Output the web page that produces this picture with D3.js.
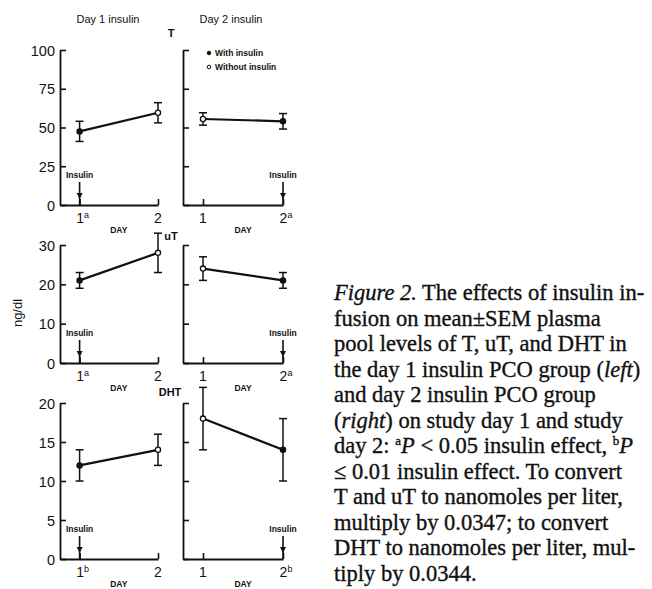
<!DOCTYPE html>
<html>
<head>
<meta charset="utf-8">
<script src="https://cdn.jsdelivr.net/npm/d3@7"></script>
<style>
  body { margin: 0; background: #fff; }
  svg text { fill: #111; }
</style>
</head>
<body>
<div class="chart"></div>
<script>
// day values on the x axis
const days = [1, 2];

// T (ng/dl): mean and SEM for each day
const tLeftMean = [47.5, 59.5], tLeftSem = [6.5, 6.5];
const tRightMean = [55.5, 54], tRightSem = [4, 5];
// uT (ng/dl)
const utLeftMean = [21, 28], utLeftSem = [2, 5];
const utRightMean = [24, 21], utRightSem = [3, 2];
// DHT (ng/dl)
const dhtLeftMean = [12, 14], dhtLeftSem = [2, 2];
const dhtRightMean = [18, 14], dhtRightSem = [4, 4];

const rowLabels = ["T", "uT", "DHT"];
const rowMax = [100, 30, 20];
const rowTicks = [[0, 25, 50, 75, 100], [0, 10, 20, 30], [0, 5, 10, 15, 20]];
const rowSup = ["a", "a", "b"];          // significance marker on the insulin day
const groupTitles = ["Day 1 insulin", "Day 2 insulin"];
const insulinDay = [1, 2];                // left group got insulin on day 1, right on day 2
const legendLabels = ["With insulin", "Without insulin"];

const caption = [
  [["Figure 2.", "i"], [" The effects of insulin in-"]],
  [["fusion on mean\u00b1SEM plasma"]],
  [["pool levels of T, uT, and DHT in"]],
  [["the day 1 insulin PCO group ("], ["left", "i"], [")"]],
  [["and day 2 insulin PCO group"]],
  [["("], ["right", "i"], [") on study day 1 and study"]],
  [["day 2: "], ["a", "sup"], ["P", "i"], [" < 0.05 insulin effect, "], ["b", "sup"], ["P", "i"]],
  [["\u2264 0.01 insulin effect. To convert"]],
  [["T and uT to nanomoles per liter,"]],
  [["multiply by 0.0347; to convert"]],
  [["DHT to nanomoles per liter, mul-"]],
  [["tiply by 0.0344."]]
];

const means = [[tLeftMean, tRightMean], [utLeftMean, utRightMean], [dhtLeftMean, dhtRightMean]];
const sems = [[tLeftSem, tRightSem], [utLeftSem, utRightSem], [dhtLeftSem, dhtRightSem]];

// layout (pixel geometry of the panels)
const W = 652, H = 589;
const colX = [[60, 158], [183, 283]];      // y-axis x and day-2 x for each column
const rowY = [[205, 50], [363, 245], [559, 403]]; // zero and max y for each row
const sans = "'Liberation Sans', Arial, sans-serif";

const svg = d3.select(".chart").append("svg")
  .attr("width", W).attr("height", H);

// group titles
groupTitles.forEach((t, c) => {
  svg.append("text")
    .attr("x", c === 0 ? 108 : 231).attr("y", 23)
    .attr("text-anchor", "middle")
    .style("font-family", sans).style("font-size", "11px")
    .text(t);
});

// y axis title
svg.append("text")
  .attr("transform", "translate(22,313) rotate(-90)")
  .attr("text-anchor", "middle")
  .style("font-family", sans).style("font-size", "13px")
  .text("ng/dl");

rowLabels.forEach((lab, r) => {
  colX.forEach((cx, c) => {
    const x = d3.scaleLinear().domain([0.75, 2]).range(cx);
    const y = d3.scaleLinear().domain([0, rowMax[r]]).range(rowY[r]);
    const g = svg.append("g");

    // y axis, ticks point inward
    const ya = g.append("g")
      .attr("transform", "translate(" + cx[0] + ",0)")
      .call(d3.axisLeft(y).tickValues(rowTicks[r]).tickSizeInner(-6).tickSizeOuter(0).tickPadding(5)
        .tickFormat(c === 0 ? d3.format("d") : ""));
    ya.selectAll("text").style("font-family", sans).style("font-size", "14.5px").attr("dy", "0.36em");

    // x axis
    const xa = g.append("g")
      .attr("transform", "translate(0," + rowY[r][0] + ")")
      .call(d3.axisBottom(x).tickValues(days).tickSizeInner(-6).tickSizeOuter(0).tickFormat(""));
    [ya, xa].forEach(a => {
      a.select(".domain").attr("stroke", "#111").attr("stroke-width", 1.8);
      a.selectAll(".tick line").attr("stroke", "#111").attr("stroke-width", 1.6);
    });

    // x tick labels with significance superscript
    days.forEach(d => {
      const t = g.append("text")
        .attr("x", x(d)).attr("y", rowY[r][0] + 18)
        .attr("text-anchor", "middle")
        .style("font-family", sans).style("font-size", "14px")
        .text(d);
      if (d === insulinDay[c]) {
        t.attr("dx", 3);
        t.append("tspan").attr("dy", -5).style("font-size", "9px").text(rowSup[r]);
      }
    });
    g.append("text")
      .attr("x", (x(1) + x(2)) / 2).attr("y", rowY[r][0] + 28)
      .attr("text-anchor", "middle")
      .style("font-family", sans).style("font-size", "8.5px").style("font-weight", "bold")
      .text("DAY");

    // insulin arrow
    const ax = x(insulinDay[c]), y0 = rowY[r][0];
    g.append("text")
      .attr("x", ax).attr("y", y0 - 27)
      .attr("text-anchor", "middle")
      .style("font-family", sans).style("font-size", "8.5px").style("font-weight", "bold")
      .text("Insulin");
    g.append("line")
      .attr("x1", ax).attr("x2", ax).attr("y1", y0 - 23).attr("y2", y0)
      .attr("stroke", "#111").attr("stroke-width", 1.6);
    g.append("path")
      .attr("d", "M" + (ax - 3) + "," + (y0 - 12) + "L" + (ax + 3) + "," + (y0 - 12) + "L" + ax + "," + (y0 - 6) + "Z")
      .attr("fill", "#111");

    // data
    const pts = days.map((d, i) => ({ day: d, m: means[r][c][i], s: sems[r][c][i] }));
    g.append("path")
      .datum(pts)
      .attr("fill", "none").attr("stroke", "#111").attr("stroke-width", 2.2)
      .attr("d", d3.line().x(p => x(p.day)).y(p => y(p.m)));

    const eb = g.selectAll(".eb").data(pts).enter().append("g");
    eb.append("line")
      .attr("x1", p => x(p.day)).attr("x2", p => x(p.day))
      .attr("y1", p => y(p.m - p.s)).attr("y2", p => y(p.m + p.s))
      .attr("stroke", "#111").attr("stroke-width", 1.5);
    [-1, 1].forEach(k => {
      eb.append("line")
        .attr("x1", p => x(p.day) - 4).attr("x2", p => x(p.day) + 4)
        .attr("y1", p => y(p.m + k * p.s)).attr("y2", p => y(p.m + k * p.s))
        .attr("stroke", "#111").attr("stroke-width", 1.5);
    });
    eb.append("circle")
      .attr("cx", p => x(p.day)).attr("cy", p => y(p.m)).attr("r", 2.6)
      .attr("fill", p => p.day === insulinDay[c] ? "#111" : "#fff")
      .attr("stroke", "#111").attr("stroke-width", 1.3);
  });

  // row label
  svg.append("text")
    .attr("x", [171, 171, 170][r]).attr("y", [37, 240, 396][r])
    .attr("text-anchor", "middle")
    .style("font-family", sans).style("font-size", "11px").style("font-weight", "bold")
    .text(lab);
});

// legend
legendLabels.forEach((l, i) => {
  const ly = 53 + i * 14;
  svg.append("circle")
    .attr("cx", 209).attr("cy", ly).attr("r", 1.8)
    .attr("fill", i === 0 ? "#111" : "#fff").attr("stroke", "#111").attr("stroke-width", 1);
  svg.append("text")
    .attr("x", 215).attr("y", ly + 3)
    .style("font-family", sans).style("font-size", "8.5px").style("font-weight", "bold")
    .text(l);
});

// caption
const cap = svg.append("text")
  .style("font-family", "'Liberation Serif', 'Times New Roman', serif")
  .style("font-size", "22.5px")
  .style("stroke", "#111").style("stroke-width", 0.35);
caption.forEach((line, i) => {
  const t = cap.append("tspan").attr("x", 334).attr("y", 300 + i * 25.5);
  line.forEach(seg => {
    const s = t.append("tspan").text(seg[0]);
    if (seg[1] === "i") s.style("font-style", "italic");
    if (seg[1] === "sup") s.style("font-size", "13px").attr("dy", -8).attr("data-sup", 1);
  });
  // restore the baseline after a superscript
  t.selectAll("tspan[data-sup]").each(function () {
    const next = this.nextSibling;
    if (next) d3.select(next).attr("dy", 8);
  });
});
</script>
</body>
</html>
